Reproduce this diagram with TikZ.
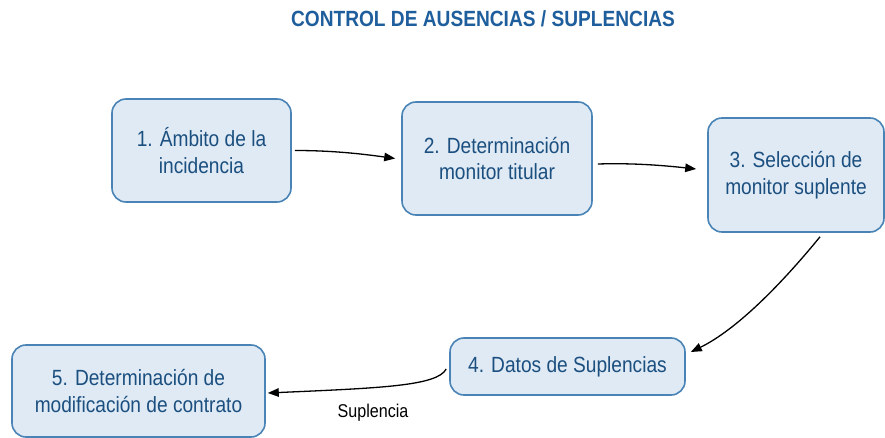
\documentclass[tikz,border=0pt]{standalone}
\usepackage{fontspec}
\setmainfont{Liberation Sans}[FakeStretch=0.87]
\usetikzlibrary{arrows.meta}
\definecolor{boxfill}{HTML}{DFEAF5}
\definecolor{boxdraw}{HTML}{4A84B6}
\definecolor{boxtext}{HTML}{1B4F7F}
\definecolor{titleblue}{HTML}{1F5E9C}
\begin{document}
\begin{tikzpicture}[x=1pt,y=-1pt,
  stepbox/.style={draw=boxdraw, fill=boxfill, line width=1.6pt, rounded corners=14pt,
    align=center, text=boxtext, font=\fontsize{22}{26.5}\selectfont, inner sep=0pt},
  conn/.style={draw=black, line width=1.3pt, -{Triangle[length=11pt,width=8.5pt]}},
  lbl/.style={font=\fontsize{18.5}{22}\selectfont, text=black, inner sep=0pt}]
\useasboundingbox (0,0) rectangle (885,438);
\node[font=\bfseries\fontsize{22}{26}\selectfont, text=titleblue, inner sep=0pt] (title) at (483,19) {CONTROL DE AUSENCIAS / SUPLENCIAS};
\node[stepbox, minimum width=179pt, minimum height=103pt] (b1) at (201.5,150.5) {1. Ámbito de la\\incidencia};
\node[stepbox, minimum width=190pt, minimum height=113pt] (b2) at (497,158.5) {2. Determinación\\monitor titular};
\node[stepbox, minimum width=176pt, minimum height=114pt] (b3) at (796,175) {3. Selección de\\monitor suplente};
\node[stepbox, minimum width=235pt, minimum height=57pt] (b4) at (567.5,366.5) {4. Datos de Suplencias};
\node[stepbox, minimum width=253pt, minimum height=92pt] (b5) at (138.5,391) {5. Determinación de\\modificación de contrato};
\node[lbl] (lab) at (373,413) {Suplencia};
\draw[conn] ([xshift=3pt]b1.east) .. controls +(36,0) and +(-36,-5) .. ([xshift=-6pt]b2.west);
\draw[conn] ([xshift=5pt,yshift=-5.5pt]b2.east) .. controls +(33,-1) and +(-37,-4) .. ([xshift=-11pt,yshift=6pt]b3.west);
\draw[conn] ([xshift=24pt,yshift=-4pt]b3.south) .. controls +(-40,49) and +(45,-22) .. ([xshift=5pt,yshift=14.5pt]b4.east);
\draw[conn] ([xshift=-3pt,yshift=-2.5pt]b4.west) .. controls +(-9,17) and +(113,-5) .. ([xshift=2pt,yshift=-2pt]b5.east);
\end{tikzpicture}
\end{document}
